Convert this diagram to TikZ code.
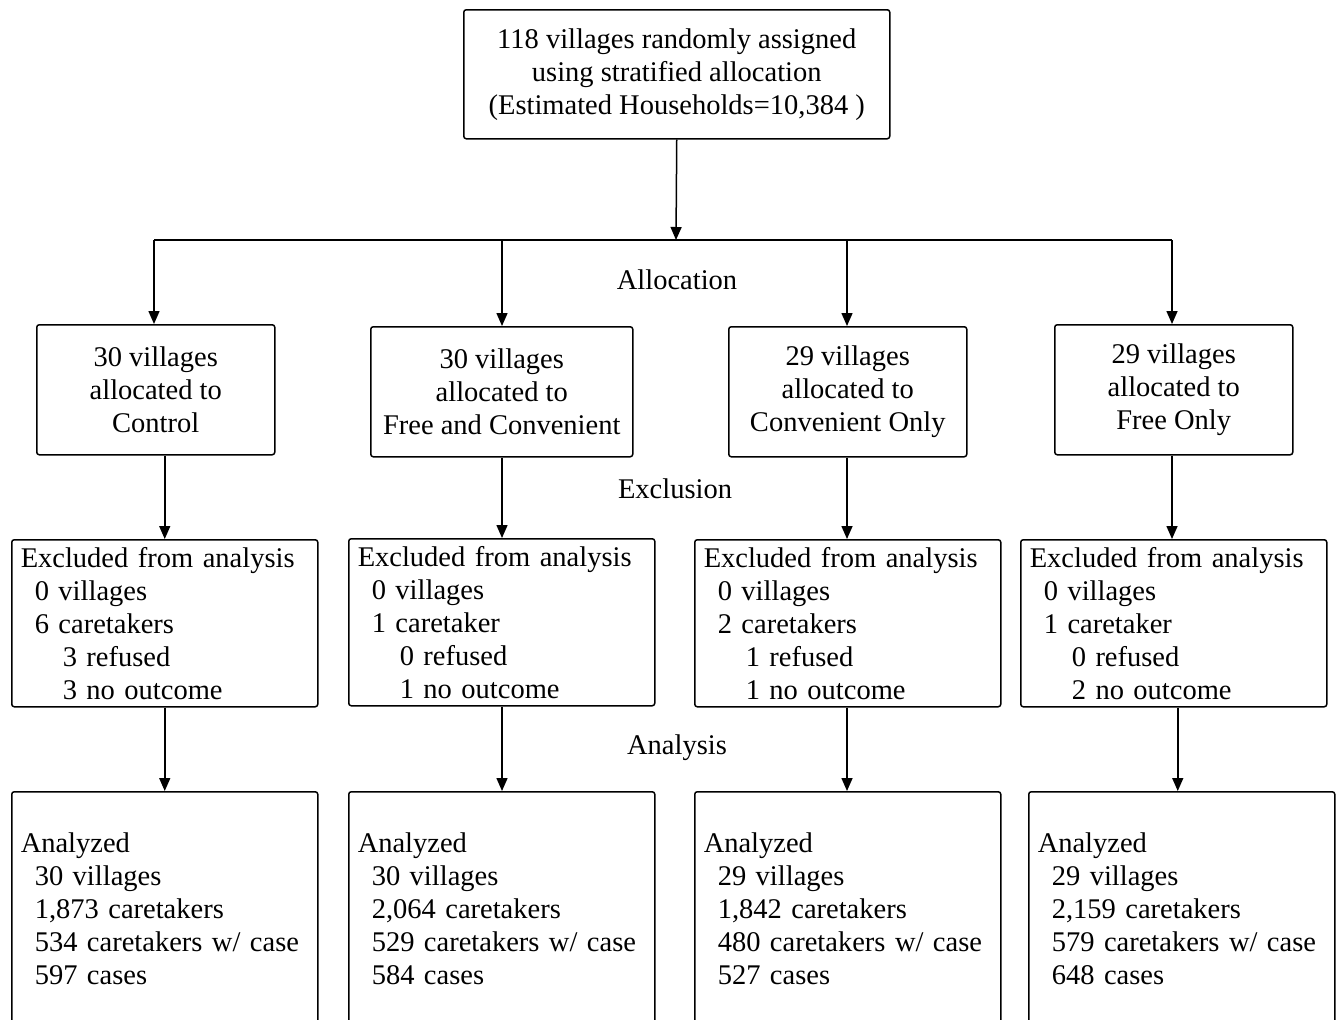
\documentclass[tikz,border=0pt]{standalone}
\usepackage{fontspec}
\setmainfont{Liberation Serif}
\usetikzlibrary{arrows.meta}
\tikzset{
  box/.style={draw, line width=1.5pt, rounded corners=2.5pt, inner sep=0pt, anchor=north west, align=center},
  lbox/.style={draw, line width=1.5pt, rounded corners=2.5pt, inner xsep=9pt, inner ysep=0pt, anchor=north west, align=left},
  conn/.style={line width=1.5pt},
  arr/.style={line width=1.5pt, -{Triangle[length=13pt,width=11pt]}},
  lab/.style={inner sep=0pt}
}
\newcommand{\ia}{\hspace*{14pt}}
\newcommand{\ib}{\hspace*{42pt}}
\begin{document}
\begin{tikzpicture}[x=1pt,y=-1pt, every node/.style={font=\fontsize{28.5}{33}\selectfont}]
\useasboundingbox (0,0) rectangle (1336,1020);
\clip (0,0) rectangle (1336,1020);
% top
\node[box, minimum width=426pt, minimum height=129pt] (top) at (463,9) {118 villages randomly assigned\\using stratified allocation\\(Estimated Households=10,384 )};
\coordinate (j) at (676,240);
\coordinate (l1) at (154,240);
\coordinate (l2) at (502,240);
\coordinate (l3) at (847,240);
\coordinate (l4) at (1172,240);
% row 2
\node[box, minimum width=238pt, minimum height=130pt] (c1) at (36,324) {30 villages\\allocated to\\Control};
\node[box, minimum width=262pt, minimum height=130pt] (c2) at (370,326) {30 villages\\allocated to\\Free and Convenient};
\node[box, minimum width=238pt, minimum height=130pt] (c3) at (728,326) {29 villages\\allocated to\\Convenient Only};
\node[box, minimum width=238pt, minimum height=130pt] (c4) at (1054,324) {29 villages\\allocated to\\Free Only};
% labels
\node[lab] (alloc) at (677,280) {Allocation};
\node[lab] (excl) at (675,489) {Exclusion};
\node[lab] (anal) at (677,748) {Analysis};
% row 3
\node[lbox, text width=288pt, minimum height=167pt] (e1) at (11,539) {Excluded from analysis\\\ia 0 villages\\\ia 6 caretakers\\\ib 3 refused\\\ib 3 no outcome};
\node[lbox, text width=288pt, minimum height=167pt] (e2) at (348,538) {Excluded from analysis\\\ia 0 villages\\\ia 1 caretaker\\\ib 0 refused\\\ib 1 no outcome};
\node[lbox, text width=288pt, minimum height=167pt] (e3) at (694,539) {Excluded from analysis\\\ia 0 villages\\\ia 2 caretakers\\\ib 1 refused\\\ib 1 no outcome};
\node[lbox, text width=288pt, minimum height=167pt] (e4) at (1020,539) {Excluded from analysis\\\ia 0 villages\\\ia 1 caretaker\\\ib 0 refused\\\ib 2 no outcome};
% row 4
\node[lbox, text width=288pt, minimum height=234pt] (a1) at (11,791) {Analyzed\\\ia 30 villages\\\ia 1,873 caretakers\\\ia 534 caretakers w/ case\\\ia 597 cases};
\node[lbox, text width=288pt, minimum height=234pt] (a2) at (348,791) {Analyzed\\\ia 30 villages\\\ia 2,064 caretakers\\\ia 529 caretakers w/ case\\\ia 584 cases};
\node[lbox, text width=288pt, minimum height=234pt] (a3) at (694,791) {Analyzed\\\ia 29 villages\\\ia 1,842 caretakers\\\ia 480 caretakers w/ case\\\ia 527 cases};
\node[lbox, text width=288pt, minimum height=234pt] (a4) at (1028,791) {Analyzed\\\ia 29 villages\\\ia 2,159 caretakers\\\ia 579 caretakers w/ case\\\ia 648 cases};
% connectors
\draw[arr] (top.south) -- (j);
\draw[conn] (l1) -- (l4);
\draw[arr] (l1) -- (l1 |- c1.north);
\draw[arr] (l2) -- (l2 |- c2.north);
\draw[arr] (l3) -- (l3 |- c3.north);
\draw[arr] (l4) -- (l4 |- c4.north);
\draw[arr] (c1.south -| e1.north) -- (e1.north);
\draw[arr] (c2.south -| l2) -- (l2 |- e2.north);
\draw[arr] (c3.south -| l3) -- (l3 |- e3.north);
\draw[arr] (c4.south -| l4) -- (l4 |- e4.north);
\draw[arr] (e1.south) -- (e1.south |- a1.north);
\draw[arr] (e2.south -| l2) -- (l2 |- a2.north);
\draw[arr] (e3.south -| l3) -- (l3 |- a3.north);
\draw[arr] ([xshift=4pt]e4.south) -- ([xshift=4pt]e4.south |- a4.north);
\end{tikzpicture}
\end{document}
